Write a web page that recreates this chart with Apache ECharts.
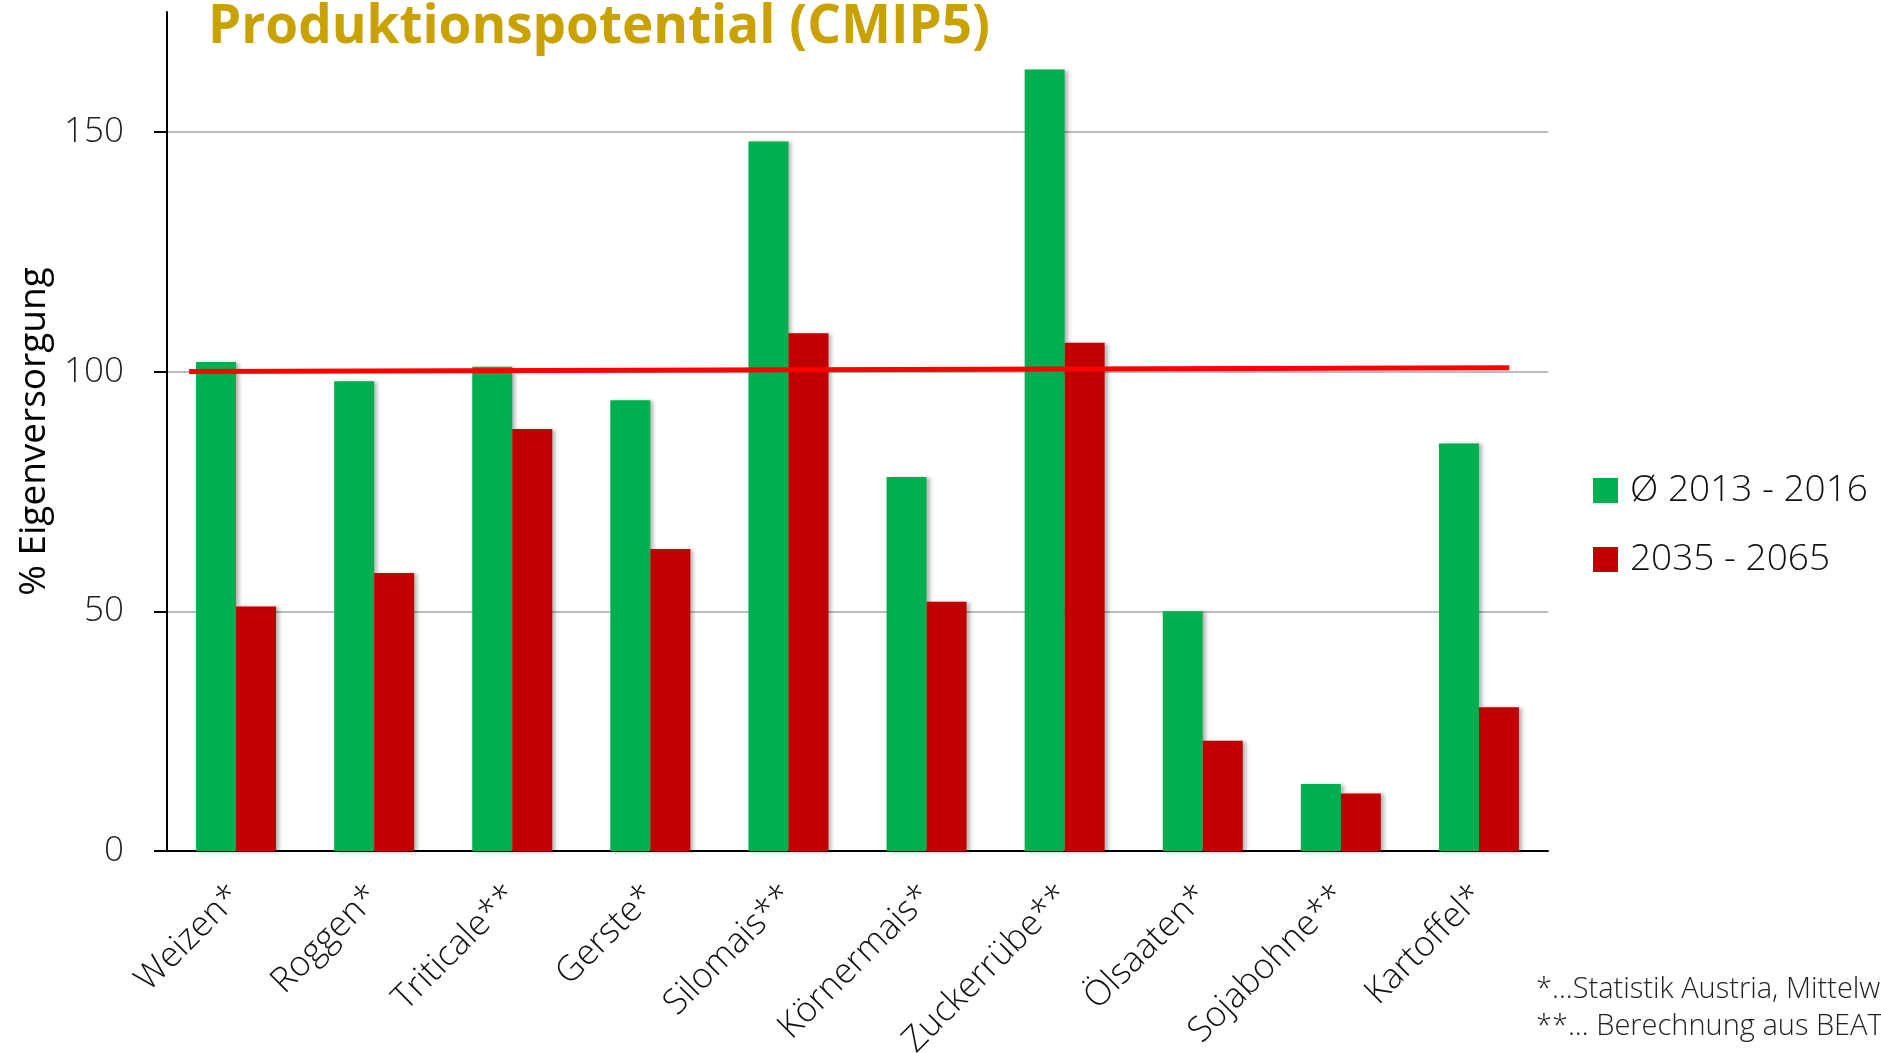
<!DOCTYPE html>
<html>
<head>
<meta charset="utf-8">
<script src="https://cdn.jsdelivr.net/npm/echarts@6/dist/echarts.min.js"></script>
<style>html,body{margin:0;padding:0;background:#fff;}#c{width:1881px;height:1053px;}</style>
</head>
<body>
<div id="c"></div>
<script>
const categories = ['Weizen*','Roggen*','Triticale**','Gerste*','Silomais**','Körnermais*','Zuckerrübe**','Ölsaaten*','Sojabohne**','Kartoffel*'];
const seriesNames = ['Ø 2013 - 2016','2035 - 2065'];
const values2013 = [102,98,101,94,148,78,163,50,14,85];
const values2035 = [51,58,88,63,108,52,106,23,12,30];
const refLine = [[0.16,100],[9.72,100.8]];
const yTicks = [0,50,100,150];
const footnotes = ['*...Statistik Austria, Mittelwert 2013 - 2016','**... Berechnung aus BEAT'];

const chart = echarts.init(document.getElementById('c'));
const font = 'Open Sans';
const barShadow = {shadowColor:'rgba(0,0,0,0.3)', shadowBlur:4, shadowOffsetX:3, shadowOffsetY:1};
chart.setOption({
  animation:false,
  title:{text:'Produktionspotential (CMIP5)', left:203, top:-4,
    textStyle:{fontSize:53, fontWeight:'bold', fontFamily:font, color:'#C9A200'}},
  legend:{data:seriesNames, orient:'vertical', left:1593, top:472, itemWidth:25, itemHeight:25, itemGap:32,
    icon:'rect', padding:0,
    textStyle:{fontSize:37, fontFamily:font, fontWeight:300, color:'#111', padding:[0,0,0,7]}},
  grid:{left:167, right:333, top:12, bottom:202, outerBoundsMode:'none', containLabel:false},
  xAxis:[
    {type:'category', data:categories,
      axisLine:{lineStyle:{color:'#000', width:2}},
      axisTick:{length:12, lineStyle:{color:'#000', width:2}},
      axisLabel:{rotate:45, interval:0, fontSize:35, fontFamily:font, fontWeight:300, color:'#111', margin:40}},
    {type:'value', min:0, max:10, show:false}
  ],
  yAxis:{type:'value', min:0, max:175, interval:50,
    name:'% Eigenversorgung', nameLocation:'middle', nameRotate:90, nameGap:110,
    nameTextStyle:{fontSize:37, fontFamily:font, color:'#000'},
    axisLine:{show:true, lineStyle:{color:'#000', width:2}},
    axisTick:{show:true, length:13, lineStyle:{color:'#000', width:2}, customValues:yTicks},
    axisLabel:{fontSize:35, fontFamily:font, fontWeight:300, color:'#222', margin:43, customValues:yTicks},
    splitLine:{show:true, lineStyle:{color:'#a6a6a6', width:1.5}}},
  series:[
    {name:seriesNames[0], type:'bar', data:values2013, barWidth:40, barGap:'0%',
      itemStyle:Object.assign({color:'#00B050'}, barShadow)},
    {name:seriesNames[1], type:'bar', data:values2035, barWidth:40, barGap:'0%',
      itemStyle:Object.assign({color:'#C00000'}, barShadow)},
    {name:'Ref', type:'line', xAxisIndex:1, data:refLine, symbol:'none', silent:true, z:10,
      lineStyle:{color:'#FF0000', width:5}}
  ],
  graphic:footnotes.map((t,i)=>({type:'text', left:1536, top:975+i*37,
    style:{text:t, fontSize:29, fontFamily:font, fontWeight:300, fill:'#222'}}))
});
</script>
</body>
</html>
